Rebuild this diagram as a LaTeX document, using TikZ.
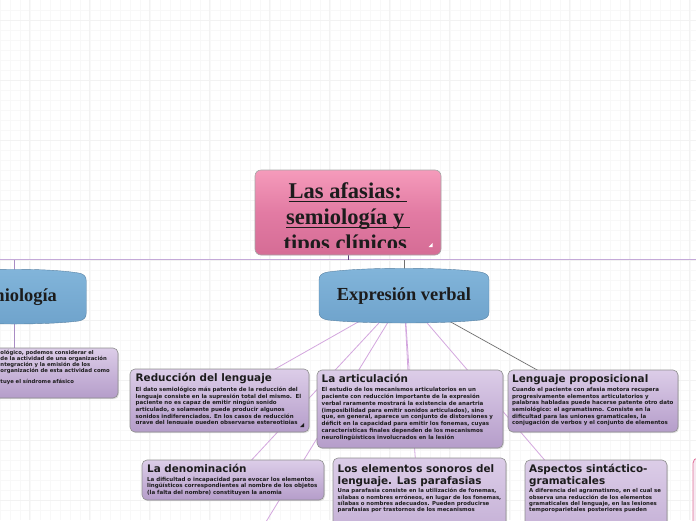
\documentclass[tikz,border=0pt]{standalone}
\usepackage{fontspec}
\setmainfont{Liberation Serif}
\newfontfamily\dv{DejaVu Sans}
\usetikzlibrary{shadows}
\definecolor{boxtop}{HTML}{DCCDE8}
\definecolor{boxbot}{HTML}{B59DCA}
\definecolor{boxline}{HTML}{8E8E8E}
\definecolor{pinkT}{HTML}{F59BBB}
\definecolor{pinkM}{HTML}{E27BA3}
\definecolor{pinkB}{HTML}{D56C95}
\definecolor{blueT}{HTML}{82B5DA}
\definecolor{blueB}{HTML}{6FA3CC}
\definecolor{linkpink}{HTML}{D3A6DE}
\definecolor{linkgray}{HTML}{707070}
\definecolor{busc}{HTML}{C4A9D8}
\definecolor{darkpurp}{HTML}{5B3F7A}
\definecolor{semic}{HTML}{A98CC4}
\definecolor{gridc}{HTML}{F8F8F8}
\definecolor{gridm}{HTML}{F2F2F2}
\definecolor{txt}{HTML}{1C1C1C}
\definecolor{fragline}{HTML}{E0709A}
\definecolor{fragfill}{HTML}{F6E8F0}
\newcommand\myul[1]{\setbox0=\hbox{#1}\rlap{\rule[-4pt]{\wd0}{1.4pt}}\box0}
\pgfdeclarelayer{gridlayer}
\pgfdeclarelayer{background}
\pgfsetlayers{gridlayer,background,main}
\tikzset{
  box/.style={draw=boxline, line width=0.6pt, rounded corners=5pt, top color=boxtop, bottom color=boxbot,
    drop shadow={shadow xshift=1pt, shadow yshift=-1.2pt, opacity=0.25}, inner sep=0pt},
  ttl/.style={anchor=base west, inner sep=0pt, font=\dv\bfseries\fontsize{10.4}{11}\selectfont, text=txt},
  bdy/.style={anchor=north west, inner sep=0pt, align=left, font=\dv\bfseries\fontsize{5.5}{6.6}\selectfont, text=txt},
  link/.style={draw=linkpink, line width=0.8pt},
  glink/.style={draw=linkgray, line width=0.7pt},
  headfont/.style={font=\bfseries\fontsize{18.4}{20}\selectfont, text=txt},
}
\begin{document}
\begin{tikzpicture}[x=1pt,y=-1pt]
\useasboundingbox (0,0) rectangle (696,520);
\clip (0,0) rectangle (696,520);
% grid
\begin{pgfonlayer}{gridlayer}
\fill[white] (0,0) rectangle (696,520);
\foreach \x in {0,10,...,690} \draw[gridc, line width=0.5pt] (\x,0) -- (\x,520);
\foreach \y in {10,20,...,510} \draw[gridc, line width=0.5pt] (0,\y) -- (696,\y);
\foreach \x in {29,89,...,689} \draw[gridm, line width=0.5pt] (\x,0) -- (\x,520);
\foreach \y in {20,80,...,500} \draw[gridm, line width=0.5pt] (0,\y) -- (696,\y);
\end{pgfonlayer}

% ---- top node
\node[draw=boxline!80, line width=0.6pt, rounded corners=6pt, top color=pinkT, bottom color=pinkB, middle color=pinkM,
      minimum width=186pt, minimum height=85pt, inner sep=0pt] (title) at (348,212.5) {};
\begin{scope}
\clip (257,172) rectangle (439,247.5);
\node[anchor=base, inner sep=0pt, font=\bfseries\fontsize{22.5}{26}\selectfont, text=txt] (t1) at (348,198.3) {\myul{Las afasias:\ }};
\node[anchor=base, inner sep=0pt, font=\bfseries\fontsize{22.5}{26}\selectfont, text=txt] (t2) at (348,224.3) {\myul{semiología y\ }};
\node[anchor=base, inner sep=0pt, font=\bfseries\fontsize{22.5}{26}\selectfont, text=txt] (t3) at (348,250.3) {\myul{tipos clínicos\ }};
\end{scope}
\fill[white] (432.5,243) -- (432.5,247) -- (428.5,247) -- cycle;

% ---- blue heads
\begin{scope}[shift={(404,296)}]
\path[draw=blueB!80!black, line width=0.4pt, top color=blueT, bottom color=blueB]
 (-85,-16) .. controls (-85,-21) and (-82,-23) .. (-76,-24) .. controls (-40,-29) and (40,-29) .. (76,-24)
 .. controls (82,-23) and (85,-21) .. (85,-16) -- (85,16) .. controls (85,21) and (82,23) .. (76,24)
 .. controls (40,28) and (-40,28) .. (-76,24) .. controls (-82,23) and (-85,21) .. (-85,16) -- cycle;
\end{scope}
\node[headfont, minimum width=170pt, minimum height=55pt, inner sep=0pt] (expr) at (404,296) {Expresión verbal};

\begin{scope}[shift={(14,297)}, xscale=0.85]
\path[draw=blueB!80!black, line width=0.4pt, top color=blueT, bottom color=blueB]
 (-85,-16) .. controls (-85,-21) and (-82,-23) .. (-76,-24) .. controls (-40,-29) and (40,-29) .. (76,-24)
 .. controls (82,-23) and (85,-21) .. (85,-16) -- (85,16) .. controls (85,21) and (82,23) .. (76,24)
 .. controls (40,28) and (-40,28) .. (-76,24) .. controls (-82,23) and (-85,21) .. (-85,16) -- cycle;
\end{scope}
\node[headfont, minimum width=144pt, minimum height=55pt, inner sep=0pt] (semi) at (14,297) {Semiología};

% ---- boxes
\node[box, minimum width=198pt, minimum height=50pt] (left) at (19,373) {};
\node[box, minimum width=179pt, minimum height=63pt] (red) at (219.5,400.5) {};
\node[box, minimum width=186pt, minimum height=78pt] (art) at (410,409) {};
\node[box, minimum width=170pt, minimum height=62pt] (lp) at (593,401) {};
\node[box, minimum width=182pt, minimum height=40pt] (den) at (233,480) {};
\node[box, minimum width=173pt, minimum height=122pt] (son) at (419.5,519) {};
\node[box, minimum width=142pt, minimum height=120pt] (asp) at (596,520) {};
\node[draw=fragline, fill=fragfill, line width=0.8pt, rounded corners=5pt, minimum width=97pt, minimum height=142pt, inner sep=0pt] (frag) at (741.5,529) {};
\coordinate (off) at (206,620);

% ---- texts
\node[bdy, font=\dv\bfseries\fontsize{5.3}{5.8}\selectfont] (leftB) at (0.3,349.5) {\rule{0pt}{5pt}ológico, podemos considerar el\\
de la actividad de una organización\\
ntegración y la emisión de los\\
organización de esta actividad como\\
\mbox{}\\
tuye el síndrome afásico};

\node[ttl] (redT) at (135.5,381.5) {Reducción del lenguaje};
\begin{scope}
\clip (130,369) rectangle (309,423.5);
\node[bdy] (redB) at (135.5,386.5) {\rule{0pt}{5pt}El dato semiológico más patente de la reducción del\\
lenguaje consiste en la supresión total del mismo.\ \ El\\
paciente no es capaz de emitir ningún sonido\\
articulado, o solamente puede producir algunos\\
sonidos indiferenciados. En los casos de reducción\\
grave del lenguaje pueden observarse estereotipias};
\end{scope}
\fill[txt] (304,423) -- (304,427) -- (300,427) -- cycle;

\node[ttl] (artT) at (321.5,382) {La articulación};
\node[bdy, font=\dv\bfseries\fontsize{5.5}{6.8}\selectfont] (artB) at (321.5,386.5) {\rule{0pt}{5pt}El estudio de los mecanismos articulatorios en un\\
paciente con reducción importante de la expresión\\
verbal raramente mostrará la existencia de anartria\\
(imposibilidad para emitir sonidos articulados), sino\\
que, en general, aparece un conjunto de distorsiones y\\
déficit en la capacidad para emitir los fonemas, cuyas\\
características finales dependen de los mecanismos\\
neurolingüísticos involucrados en la lesión};

\node[ttl] (lpT) at (512,382) {Lenguaje proposicional};
\node[bdy] (lpB) at (512,386.5) {\rule{0pt}{5pt}Cuando el paciente con afasia motora recupera\\
progresivamente elementos articulatorios y\\
palabras habladas puede hacerse patente otro dato\\
semiológico: el agramatismo. Consiste en la\\
dificultad para las uniones gramaticales, la\\
conjugación de verbos y el conjunto de elementos};

\node[ttl] (denT) at (147,472) {La denominación};
\node[bdy] (denB) at (147,476) {\rule{0pt}{5pt}La dificultad o incapacidad para evocar los elementos\\
lingüísticos correspondientes al nombre de los objetos\\
(la falta del nombre) constituyen la anomia};

\node[ttl] (sonT) at (337.5,472.5) {Los elementos sonoros del};
\node[ttl] (sonT2) at (337.5,484) {lenguaje. Las parafasias};
\node[bdy, font=\dv\bfseries\fontsize{5.4}{6.3}\selectfont] (sonB) at (337.5,487.5) {\rule{0pt}{5pt}Una parafasia consiste en la utilización de fonemas,\\
sílabas o nombres erróneos, en lugar de los fonemas,\\
sílabas o nombres adecuados. Pueden producirse\\
parafasias por trastornos de los mecanismos};

\node[ttl] (aspT) at (529,472.5) {Aspectos sintáctico-};
\node[ttl] (aspT2) at (529,484) {gramaticales};
\node[bdy, font=\dv\bfseries\fontsize{5.4}{6.3}\selectfont] (aspB) at (529,487.5) {\rule{0pt}{5pt}A diferencia del agramatismo, en el cual se\\
observa una reducción de los elementos\\
gramaticales del lenguaje, en las lesiones\\
temporoparietales posteriores pueden};

% ---- connectors
\begin{pgfonlayer}{background}
\coordinate (busL) at (-5,259.5);
\coordinate (busR) at (701,259.5);
\draw[busc, line width=1pt] (busL) -- (busR);
\draw[darkpurp, line width=1pt] (title.south) -- (title.south |- busL);
\draw[linkgray, line width=1pt] (expr.center) -- (expr.center |- busL);
\draw[semic, line width=1pt] (semi.center) -- (semi.center |- busL);
\draw[semic, line width=1pt] (semi.center) -- (semi.center |- left.center);
\draw[link] (expr.center) -- (red.center);
\draw[link] (expr.center) -- (art.center);
\draw[glink] (expr.center) -- (lp.center);
\draw[link] (expr.center) -- (den.center);
\draw[link] (expr.center) -- (son.center);
\draw[link] (expr.center) -- (asp.center);
\draw[link] (expr.center) -- (off);
\end{pgfonlayer}
\end{tikzpicture}
\end{document}
